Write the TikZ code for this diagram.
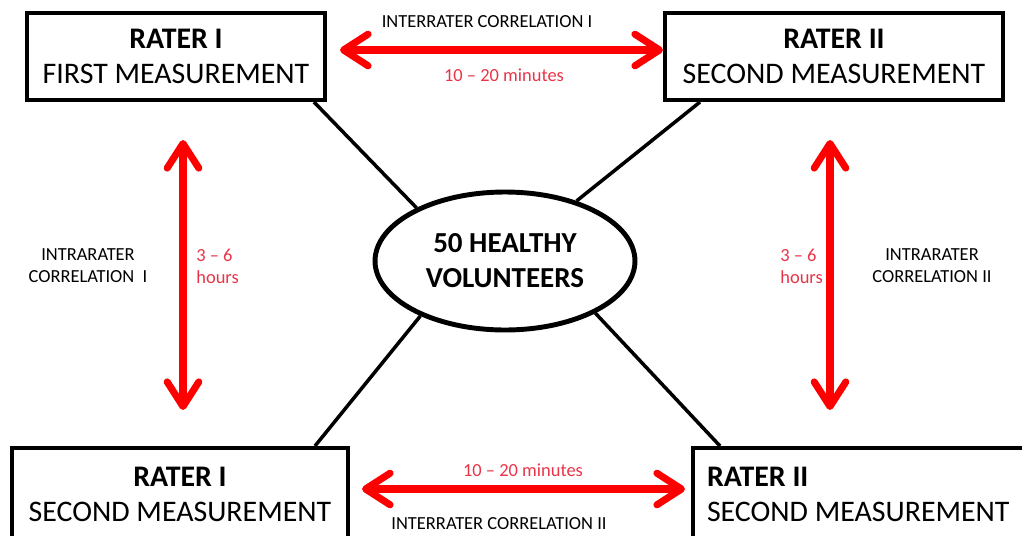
\documentclass[tikz,border=0pt]{standalone}
\usepackage{fontspec}
\setmainfont{Carlito}
\usetikzlibrary{arrows.meta}
\usetikzlibrary{shapes.geometric}
\definecolor{arrowred}{RGB}{255,0,0}
\definecolor{labelred}{RGB}{232,52,72}

\begin{document}
\begin{tikzpicture}[x=0.02cm,y=-0.02cm,
  box/.style={draw, line width=2.3pt, inner sep=0pt, minimum height=1.74cm, align=center, font=\fontsize{17}{20}\selectfont},
  hub/.style={draw, ellipse, line width=2.8pt, inner sep=0pt, minimum width=5.2cm, minimum height=2.76cm, align=center, font=\bfseries\fontsize{16.5}{20}\selectfont},
  link/.style={line width=2pt},
  redarrow/.style={arrowred, line width=4pt, {Straight Barb[length=14pt,width=18pt,round]}-{Straight Barb[length=14pt,width=18pt,round]}},
  lbl/.style={inner sep=0pt, font=\fontsize{10.5}{12.5}\selectfont},
  redlbl/.style={lbl, text=labelred, align=flush left}]
  \useasboundingbox (0,0) rectangle (1022,535);
  \clip (0,0) rectangle (1022,535);

  % Rater boxes
  \node[box, minimum width=5.96cm] (rI1) at (176,56.5) {\textbf{RATER I}\\FIRST MEASUREMENT};
  \node[box, minimum width=6.76cm] (rII1) at (834,56.5) {\textbf{RATER II}\\SECOND MEASUREMENT};
  \node[box, minimum width=6.72cm, minimum height=1.86cm] (rI2) at (180,494.5) {\textbf{RATER I}\\SECOND MEASUREMENT};
  \node[box, minimum height=1.86cm, text width=6.24cm, inner xsep=0.28cm, align=flush left] (rII2) at (863,494.5) {\textbf{RATER II}\\SECOND MEASUREMENT};

  % Volunteers
  \node[hub] (vol) at (505,261) {50 HEALTHY\\VOLUNTEERS};

  % Links to the volunteers
  \draw[link] ([xshift=-0.26cm]rI1.south east) -- (vol.149);
  \draw[link] ([xshift=0.74cm]rII1.south west) -- (vol.40);
  \draw[link] ([xshift=-0.7cm]rI2.north east) -- (vol.213);
  \draw[link] ([xshift=0.58cm]rII2.north west) -- (vol.330);

  % Time arrows
  \coordinate (topL) at (340,50);   \coordinate (topR) at (663,50);
  \coordinate (botL) at (362,489);  \coordinate (botR) at (685,489);
  \coordinate (leftT) at (183,140); \coordinate (leftB) at (183,410);
  \coordinate (rightT) at (830,140); \coordinate (rightB) at (830,410);
  \draw[redarrow] (topL) -- (topR);
  \draw[redarrow] (botL) -- (botR);
  \draw[redarrow] (leftT) -- (leftB);
  \draw[redarrow] (rightT) -- (rightB);

  % Labels
  \node[lbl] (inter1) at (487,22) {INTERRATER CORRELATION I};
  \node[redlbl] (min1) at (504,75) {10 -- 20 minutes};
  \node[redlbl] (min2) at (523,470) {10 -- 20 minutes};
  \node[lbl] (inter2) at (499,524) {INTERRATER CORRELATION II};
  \node[lbl, align=center] (intra1) at (88,266) {INTRARATER\\CORRELATION\ \ I};
  \node[redlbl, anchor=west] (hrs1) at (196,266) {3 -- 6\\hours};
  \node[redlbl, anchor=west] (hrs2) at (780,266) {3 -- 6\\hours};
  \node[lbl, align=center] (intra2) at (932,266) {INTRARATER\\CORRELATION II};
\end{tikzpicture}
\end{document}
